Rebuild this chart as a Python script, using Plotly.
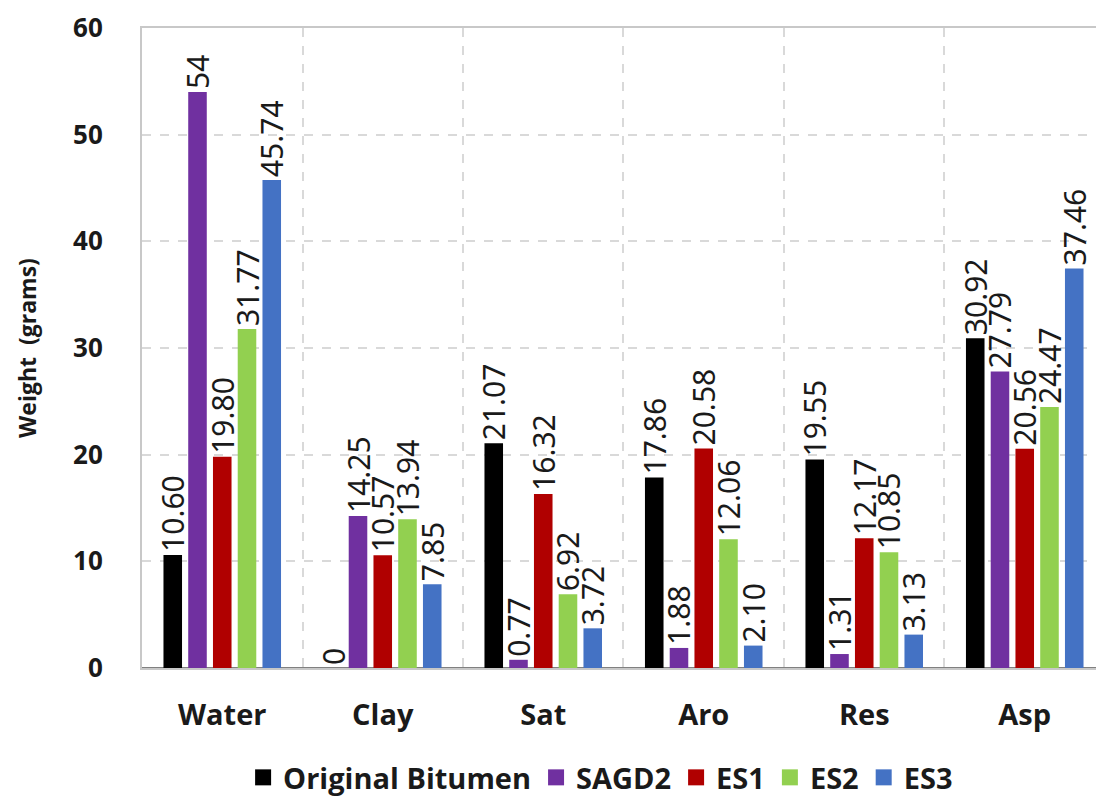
import plotly.graph_objects as go

# Weight of each fraction per sample
categories = ["Water", "Clay", "Sat", "Aro", "Res", "Asp"]
series_names = ["Original Bitumen", "SAGD2", "ES1", "ES2", "ES3"]
original_bitumen = [10.60, 0, 21.07, 17.86, 19.55, 30.92]
sagd2 = [54, 14.25, 0.77, 1.88, 1.31, 27.79]
es1 = [19.80, 10.57, 16.32, 20.58, 12.17, 20.56]
es2 = [31.77, 13.94, 6.92, 12.06, 10.85, 24.47]
es3 = [45.74, 7.85, 3.72, 2.10, 3.13, 37.46]
label_text = [
    ["10.60", "0", "21.07", "17.86", "19.55", "30.92"],
    ["54", "14.25", "0.77", "1.88", "1.31", "27.79"],
    ["19.80", "10.57", "16.32", "20.58", "12.17", "20.56"],
    ["31.77", "13.94", "6.92", "12.06", "10.85", "24.47"],
    ["45.74", "7.85", "3.72", "2.10", "3.13", "37.46"],
]
colors = ["#000000", "#7030A0", "#B00000", "#92D050", "#4472C4"]

values = [original_bitumen, sagd2, es1, es2, es3]

fig = go.Figure()
for name, vals, txt, col in zip(series_names, values, label_text, colors):
    fig.add_trace(go.Bar(
        x=categories, y=vals, name=name, showlegend=False,
        marker=dict(color=col, line=dict(width=0)),
        text=txt, textposition="outside", textangle=-90,
        constraintext="none", cliponaxis=False,
        textfont=dict(family="Noto Sans", size=30, color="#1a1a1a"),
    ))

# legend keys: large square swatches
for name, col in zip(series_names, colors):
    fig.add_trace(go.Scatter(
        x=[None], y=[None], mode="markers", name=name,
        marker=dict(symbol="square", size=19, color=col),
    ))

fig.update_layout(
    width=1096, height=803,
    margin=dict(l=142, r=0, t=28, b=135),
    paper_bgcolor="white", plot_bgcolor="white",
    barmode="group", bargap=0.229, bargroupgap=0.25,
    showlegend=True,
    legend=dict(orientation="h", x=0.548, xref="container", xanchor="center",
                y=-0.012, yref="container", yanchor="bottom",
                font=dict(family="Open Sans", size=29, color="#1a1a1a", weight="bold"),
                itemwidth=30, tracegroupgap=0, itemclick=False),
    font=dict(family="Open Sans", color="#1a1a1a"),
)
fig.update_xaxes(
    type="category", range=[-0.5, 5.444], tickson="boundaries",
    showgrid=True, gridcolor="#D9D9D9", griddash="dash", gridwidth=1.5,
    showline=True, linecolor="#C8C8C8", linewidth=2, mirror=True,
    ticks="", ticklabelstandoff=20,
    tickfont=dict(family="Open Sans", size=29, color="#1a1a1a", weight="bold"),
)
fig.update_yaxes(
    range=[0, 60], dtick=10,
    showgrid=True, gridcolor="#D9D9D9", griddash="dash", gridwidth=1.5,
    showline=True, linecolor="#C8C8C8", linewidth=2,
    zeroline=True, zerolinecolor="#808080", zerolinewidth=3,
    ticks="", ticklabelstandoff=32,
    tickfont=dict(family="Open Sans", size=26, color="#1a1a1a", weight="bold"),
    title=dict(text="Weight  (grams)", standoff=30,
               font=dict(family="Open Sans", size=23, color="#1a1a1a", weight="bold")),
)

fig.write_html("out.html")
